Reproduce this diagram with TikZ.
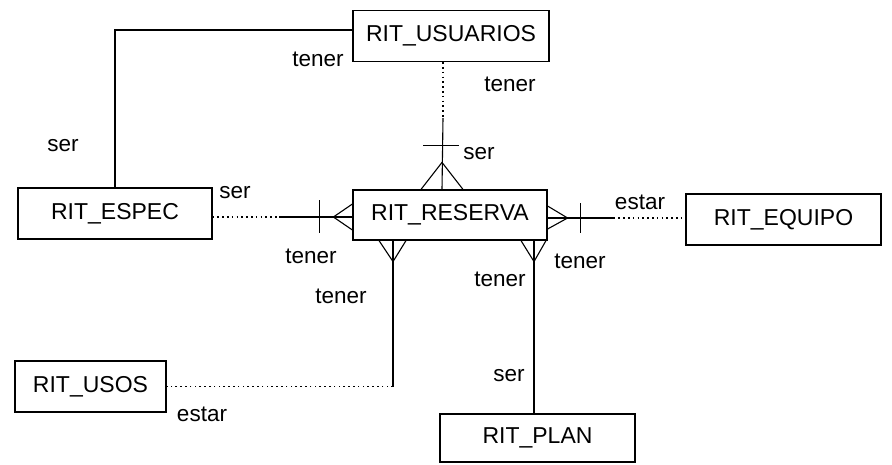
\documentclass[tikz,border=0pt]{standalone}
\usepackage{fontspec}
\setmainfont{Liberation Sans}
\usetikzlibrary{calc}
\tikzset{
  entity/.style={draw, line width=1.2pt, minimum height=51pt, inner sep=0pt, font=\fontsize{23}{27}\selectfont},
  lbl/.style={inner sep=0pt, font=\fontsize{22.5}{26}\selectfont},
  rel/.style={line width=1.1pt},
  opt/.style={line width=1.1pt, dash pattern=on 1.6pt off 3.2pt},
}
\begin{document}
\begin{tikzpicture}[x=1pt,y=-1pt]
\useasboundingbox (0,0) rectangle (892,464);
% entities
\node[entity, minimum width=196pt] (U) at (451,36) {RIT\_USUARIOS};
\node[entity, minimum width=194pt] (E) at (115,213.5) {RIT\_ESPEC};
\node[entity, minimum width=194pt, minimum height=50pt] (R) at (450,215) {RIT\_RESERVA};
\node[entity, minimum width=195pt] (Q) at (783.5,219.5) {RIT\_EQUIPO};
\node[entity, minimum width=151pt] (O) at (90.5,386.5) {RIT\_USOS};
\node[entity, minimum width=195pt, minimum height=48pt] (P) at (537.5,438) {RIT\_PLAN};
% USUARIOS - ESPEC
\draw[rel] ([yshift=6pt]U.west) -| (E.north);
% USUARIOS - RESERVA
\coordinate (tUU) at ([xshift=-8pt]U.south);
\coordinate (tUR) at ([xshift=-8pt]R.north);
\draw[opt] (tUU) -- ($(tUU)+(0,56)$);
\draw[rel] ($(tUU)+(0,56)$) -- (tUR);
\draw[rel] ($(tUR)+(-19,-44)$) -- ++(36,0);
\draw[rel] ($(tUR)+(-21,0)$) -- ($(tUR)+(0,-27)$) -- ($(tUR)+(21,0)$);
% ESPEC - RESERVA
\coordinate (lR) at ([yshift=-2pt]R.west);
\draw[opt] (E.east |- lR) -- ($(lR)+(-73,0)$);
\draw[rel] ($(lR)+(-73,0)$) -- (lR);
\draw[rel] ($(lR)+(-33,-17)$) -- ++(0,33);
\draw[rel] ($(lR)+(0,-13)$) -- ($(lR)+(-19,0)$) -- ($(lR)+(0,13)$);
% RESERVA - EQUIPO
\coordinate (rR) at ([yshift=-3pt]R.east);
\draw[rel] (rR) -- ($(rR)+(66,0)$);
\draw[opt] ($(rR)+(66,0)$) -- (Q.west |- rR);
\draw[rel] ($(rR)+(33,-15)$) -- ++(0,30);
\draw[rel] ($(rR)+(0,-12)$) -- ($(rR)+(20,0)$) -- ($(rR)+(0,11)$);
% RESERVA - USOS
\coordinate (bl) at ([xshift=-57pt]R.south);
\coordinate (blc) at (bl |- O.east);
\draw[rel] (bl) -- (blc);
\draw[opt] (blc) -- (O.east);
\draw[rel] ($(bl)+(-14,0)$) -- ($(bl)+(0,21)$) -- ($(bl)+(13,0)$);
% RESERVA - PLAN
\coordinate (br) at ([xshift=84pt]R.south);
\draw[rel] (br) -- (br |- P.north);
\draw[rel] ($(br)+(-13,0)$) -- ($(br)+(0,21)$) -- ($(br)+(12,0)$);
% labels
\node[lbl] (l1) at (318,59) {tener};
\node[lbl] (l2) at (63,146) {ser};
\node[lbl] (l3) at (510,84) {tener};
\node[lbl] (l4) at (479,154) {ser};
\node[lbl] (l5) at (235,193) {ser};
\node[lbl] (l6) at (311,256) {tener};
\node[lbl] (l7) at (640,202) {estar};
\node[lbl] (l8) at (580,261) {tener};
\node[lbl] (l9) at (341,296) {tener};
\node[lbl] (l10) at (500,279) {tener};
\node[lbl] (l11) at (509,376) {ser};
\node[lbl] (l12) at (202,414) {estar};
\end{tikzpicture}
\end{document}
